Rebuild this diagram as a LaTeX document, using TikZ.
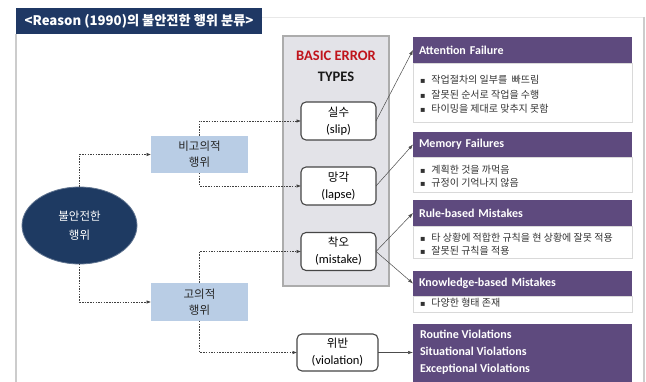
\documentclass[tikz,border=0pt]{standalone}
\usepackage{fontspec}
\setmainfont{Carlito}
\newfontfamily\kr{Noto Sans CJK KR}
\newfontfamily\dv{DejaVu Sans}
\usetikzlibrary{shapes.geometric,arrows.meta}
\definecolor{navy}{HTML}{1F3864}
\definecolor{ellnavy}{HTML}{1E3A62}
\definecolor{purp}{HTML}{5E4A7E}
\definecolor{lblue}{HTML}{B9CDE5}
\definecolor{graybg}{HTML}{E3E3E8}
\definecolor{errred}{HTML}{C0141C}
\definecolor{bultxt}{HTML}{333333}
\newcommand{\bsq}{{\dv\fontsize{8}{8}\selectfont ▪}\hspace{6pt}}
\begin{document}
\begin{tikzpicture}[x=1pt,y=-1pt,
  every node/.style={inner sep=0pt, outer sep=0pt},
  titlebar/.style={fill=navy, text=white, minimum width=246pt, minimum height=26pt, font=\kr\bfseries\fontsize{13.2}{15}\selectfont},
  typesbox/.style={draw=gray!65, line width=1.3pt, fill=graybg, minimum width=106pt, minimum height=250pt},
  errbox/.style={draw=gray!55!black, line width=1.1pt, rounded corners=5pt, fill=white, minimum width=75pt, minimum height=38pt, align=center, font=\fontsize{12.5}{17}\selectfont},
  actbox/.style={fill=lblue, minimum width=97pt, minimum height=37pt, align=center, text=black!85, font=\kr\fontsize{11.5}{16}\selectfont},
  unsafe/.style={ellipse, fill=ellnavy, draw=ellnavy!70!white, line width=0.8pt, minimum width=115pt, minimum height=77pt, text=white, align=center, font=\kr\fontsize{11.5}{19}\selectfont},
  hdr/.style={fill=purp, anchor=north west, minimum width=219pt, text width=207pt, inner xsep=6pt, align=left, text=white, font=\bfseries\fontsize{12}{14}\selectfont},
  body/.style={draw=gray!30, fill=white, anchor=north west, minimum width=219pt},
  bul/.style={anchor=west, text=bultxt, font=\kr\fontsize{10}{12}\selectfont},
  dashconn/.style={draw=black!75, line width=0.6pt, dash pattern=on 1.5pt off 1.2pt, -{Latex[length=4.5pt,width=3.5pt]}},
  conn/.style={draw=black!70, line width=0.5pt, -{Latex[length=5pt,width=3.5pt]}}
]
\useasboundingbox (0,0) rectangle (646,382);
\fill[white] (0,0) rectangle (646,382);
% frame
\draw[gray!18, line width=0.8pt] (262,17) -- (644,17);
\draw[gray!40, line width=1.2pt] (644,17) -- (644,384);
\draw[gray!40, line width=2pt] (16,34) -- (16,384);
% title
\node[titlebar] (title) at (139,21) {<Reason (1990)의 불안전한 행위 분류>};
% basic error types box
\node[typesbox] (types) at (336,161) {};
\node[text=errred, font=\bfseries\fontsize{14.5}{16}\selectfont] (basic) at (336,56) {BASIC ERROR};
\node[text=black!90, font=\bfseries\fontsize{14.5}{16}\selectfont] (typestxt) at (336,77) {TYPES};
% error boxes
\node[errbox] (slip) at (338.5,121) {{\kr\fontsize{11.5}{14}\selectfont 실수}\\(slip)};
\node[errbox] (lapse) at (338.5,186) {{\kr\fontsize{11.5}{14}\selectfont 망각}\\(lapse)};
\node[errbox] (mistake) at (338.5,251.5) {{\kr\fontsize{11.5}{14}\selectfont 착오}\\(mistake)};
\node[errbox, minimum width=81pt, minimum height=37pt] (viol) at (337.5,352.5) {{\kr\fontsize{11.5}{14}\selectfont 위반}\\(violation)};
% act boxes
\node[actbox] (nonint) at (199.5,154.5) {비고의적\\행위};
\node[actbox, minimum height=38pt] (int) at (199.5,302) {고의적\\행위};
% ellipse
\node[unsafe] (unsafe) at (79.5,225.5) {불안전한\\행위};
% right side: attention
\node[body, minimum height=59pt] (attb) at (413,63) {};
\node[hdr, minimum height=26pt] (atth) at (413,37) {Attention Failure};
\node[bul] (a1) at (420,80) {\bsq 작업절차의 일부를 \ 빠뜨림};
\node[bul] (a2) at (420,95) {\bsq 잘못된 순서로 작업을 수행};
\node[bul] (a3) at (420,109) {\bsq 타이밍을 제대로 맞추지 못함};
% memory
\node[body, minimum height=35pt] (memb) at (413,157) {};
\node[hdr, minimum height=25pt] (memh) at (413,132) {Memory Failures};
\node[bul] (m1) at (420,170) {\bsq 계획한 것을 까먹음};
\node[bul] (m2) at (420,183) {\bsq 규정이 기억나지 않음};
% rule
\node[body, minimum height=32pt] (ruleb) at (413,226) {};
\node[hdr, minimum height=26pt] (ruleh) at (413,200) {Rule-based Mistakes};
\node[bul] (r1) at (420,238) {\bsq 타 상황에 적합한 규칙을 현 상황에 잘못 적용};
\node[bul] (r2) at (420,251) {\bsq 잘못된 규칙을 적용};
% knowledge
\node[body, minimum height=16pt] (knowb) at (413,296) {};
\node[hdr, minimum height=25pt] (knowh) at (413,271) {Knowledge-based Mistakes};
\node[bul] (k1) at (420,303) {\bsq 다양한 형태 존재};
% violations
\node[fill=purp, anchor=north west, minimum width=219pt, minimum height=62pt] (violbox) at (413,324) {};
\node[anchor=west, text=white, align=left, font=\bfseries\fontsize{12}{17}\selectfont] (violtxt) at (420,352) {Routine Violations\\Situational Violations\\Exceptional Violations};
% dashed connectors
\draw[dashconn] (unsafe.north) |- (nonint.west);
\draw[dashconn] (unsafe.south) |- (int.west);
\draw[dashconn] (nonint.north) |- (slip.west);
\draw[dashconn] (nonint.south) |- (lapse.west);
\draw[dashconn] (int.north) |- (mistake.west);
\draw[dashconn] (int.south) |- (viol.west);
% solid connectors
\draw[conn] (slip.east) -- (atth.west);
\draw[conn] (lapse.east) -- (memh.west);
\draw[conn] (mistake.east) -- (ruleh.west);
\draw[conn] (mistake.east) -- (knowh.west);
\draw[conn] (viol.east) -- (viol.east -| violbox.west);
\end{tikzpicture}
\end{document}
